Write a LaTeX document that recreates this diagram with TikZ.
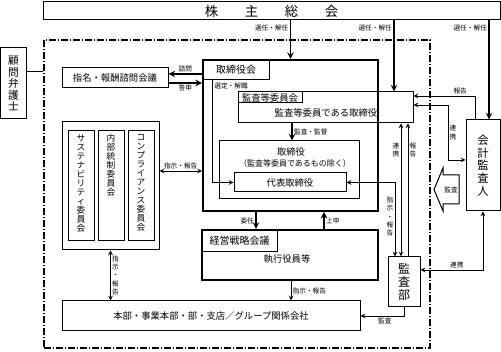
\documentclass[tikz,border=0pt]{standalone}
\usepackage{fontspec}
\setmainfont{Noto Sans CJK JP}
\newdimen\pxu
\pxu=0.75pt
\tikzset{
  box/.style={draw, line width=0.75pt, inner sep=0pt, align=center},
  heavybox/.style={draw, line width=1.5pt, inner sep=0pt},
  sz/.style 2 args={minimum width=#1\pxu, minimum height=#2\pxu},
  txt/.style={font=\fontsize{7}{8}\selectfont, inner sep=0pt},
  lbl/.style={font=\fontsize{5}{6}\selectfont, inner sep=1pt},
  vlbl/.style={font=\fontsize{5}{6.3}\selectfont, align=center, inner sep=1pt},
  vtxt/.style={font=\fontsize{6.5}{6.8}\selectfont, align=center, inner sep=0pt},
  arr/.style={-stealth, line width=0.6pt},
  arrs/.style={stealth-stealth, line width=0.6pt},
  bigarr/.style={-stealth, line width=1.2pt},
}
\begin{document}
\begin{tikzpicture}[x=0.75pt, y=-0.75pt]
\useasboundingbox (0,0) rectangle (501,352);

% 株主総会
\node[box, sz={457}{18}, font=\fontsize{10}{12}\selectfont] (kabu) at (271.5,11) {株\hspace{2em}主\hspace{2em}総\hspace{2em}会};

% 会社の範囲
\node[draw, line width=0.8pt, dash pattern=on 5pt off 1.5pt on 1pt off 1.5pt, sz={386}{308}] (group) at (237,194) {};

% 顧問弁護士
\node[box, sz={26}{71}, font=\fontsize{8}{8.6}\selectfont] (komon) at (13.5,83.5) {顧\\問\\弁\\護\\士};
\draw[line width=0.6pt] (komon.east |- 0,71) -- (group.west |- 0,71);

% 取締役会
\node[heavybox, sz={175}{151}] (board) at (290.5,135.5) {};
\node[box, sz={67}{20}, anchor=north west, font=\fontsize{7.5}{9}\selectfont] (boardtitle) at (board.north west) {取締役会};

% 監査等委員会
\node[box, sz={175}{31}] (kansa) at (325.5,107.5) {};
\node[box, sz={64}{11}, anchor=north west, font=\fontsize{7}{8}\selectfont] (kansatitle) at (kansa.north west) {監査等委員会};
\node[txt] (kansatext) at (326,113) {監査等委員である取締役};

% 取締役・代表取締役
\node[box, sz={140}{58}] (tori) at (289,170) {};
\node[txt] (toritext) at (291,152) {取締役};
\node[txt, font=\fontsize{6}{7}\selectfont] (torinote) at (295,163) {（監査等委員であるもの除く）};
\node[box, sz={112}{19}, txt] (daihyo) at (290,182.5) {代表取締役};

% 指名・報酬諮問会議
\node[box, sz={106}{20}, txt] (shimei) at (115,78) {指名・報酬諮問会議};

% 委員会
\node[box, sz={97}{128}] (comm) at (110.5,186) {};
\node[box, sz={26}{110}] (sasu) at (81,186) {};
\node[box, sz={26}{110}] (naibu) at (111,186) {};
\node[box, sz={26}{110}] (compl) at (141,186) {};
\node[vtxt, anchor=north] (sasutext) at (81,134) {サ\\ス\\テ\\ナ\\ビ\\リ\\テ\\ィ\\委\\員\\会};
\node[vtxt, anchor=north] (naibutext) at (111,134) {内\\部\\統\\制\\委\\員\\会};
\node[vtxt, anchor=north] (compltext) at (141,134) {コ\\ン\\プ\\ラ\\イ\\ア\\ン\\ス\\委\\員\\会};

% 経営戦略会議・執行役員等
\node[heavybox, sz={176}{50}] (keiei) at (290,255) {};
\node[box, sz={76}{22}, anchor=north west, font=\fontsize{7.5}{9}\selectfont] (keieititle) at (keiei.north west) {経営戦略会議};
\node[txt] (shikko) at (287,259) {執行役員等};

% 本部
\node[box, sz={298}{30}, txt] (honbu) at (211,316) {本部・事業本部・部・支店／グループ関係会社};

% 会計監査人・監査部
\node[box, sz={34}{91}, font=\fontsize{8.5}{9.5}\selectfont] (kaikei) at (483,165.5) {会\\計\\監\\査\\人};
\node[box, sz={32}{50}, font=\fontsize{9}{10}\selectfont] (kansabu) at (404,282) {監\\査\\部};

% 監査（白抜き矢印）
\draw[line width=0.75pt, fill=white] (434,189.5) -- (443,168) -- (443,175) -- (459,175) -- (459,204) -- (443,204) -- (443,211) -- cycle;
\node[lbl] (kansaarrow) at (451,189.5) {監査};

% 選任・解任
\draw[bigarr] (kabu.south -| board.north) -- (board.north) node[lbl, pos=0.2, left] {選任・解任};
\draw[bigarr] (kabu.south -| 394,0) -- (kansa.north -| 394,0) node[lbl, pos=0.11, left] {選任・解任};
\draw[bigarr] (kabu.south -| 489,0) -- (kaikei.north -| 489,0) node[lbl, pos=0.08, left] {選任・解任};

% 諮問・答申
\draw[bigarr] (board.west |- 0,74) -- (shimei.east |- 0,74) node[lbl, midway, above] {諮問};
\draw[bigarr] (shimei.east |- 0,83) -- (board.west |- 0,83) node[lbl, midway, below] {答申};

% 選定・解職
\draw[arr] (boardtitle.south -| 212,0) node[lbl, below right, inner sep=1.5pt] {選定・解職} |- (daihyo.west);

% 監査・監督
\draw[bigarr] (kansa.south -| 292,0) -- (tori.north -| 292,0) node[lbl, midway, right] {監査・監督};

% 会計監査人との報告・連携
\draw[arr] (kaikei.north -| 475,0) |- (kansa.east |- 0,96) node[lbl, pos=0.62, above] {報告};
\draw[arrs] (kansa.east |- 0,105) -| (448,160) node[vlbl, pos=0.75, right] {連\\携} -- (kaikei.west |- 0,160);

% 監査部との連携・報告
\draw[arrs] (kansa.south -| 401,0) -- (kansabu.north -| 401,0) node[vlbl, pos=0.2, left] {連\\携};
\draw[arr] (kansabu.north -| 408,0) -- (kansa.south -| 408,0) node[vlbl, pos=0.8, right] {報\\告};
\draw[arrs] (daihyo.east) -| (kansabu.north -| 395,0) node[vlbl, pos=0.73, left] {指\\示\\・\\報\\告};

% 会計監査人と監査部
\draw[arrs] (kaikei.south) |- (kansabu.east |- 0,270) node[lbl, pos=0.71, above] {連携};

% 監査部から本部
\draw[arr] (kansabu.south) |- (honbu.east) node[lbl, pos=0.72, below] {監査};

% 委任・上申
\draw[bigarr] (board.south -| 256,0) -- (keiei.north -| 256,0) node[lbl, midway, left] {委任};
\draw[bigarr] (keiei.north -| 324,0) -- (board.south -| 324,0) node[lbl, midway, right] {上申};

% 執行役員等から本部
\draw[arr] (keiei.south -| 291,0) -- (honbu.north -| 291,0) node[lbl, midway, right] {指示・報告};

% 委員会との指示・報告
\draw[arrs] (comm.east |- 0,171) -- (board.west |- 0,171) node[lbl, midway, above] {指示・報告};
\draw[arrs] (comm.south) -- (honbu.north -| comm.south) node[vlbl, midway, right] {指\\示\\・\\報\\告};
\end{tikzpicture}
\end{document}
